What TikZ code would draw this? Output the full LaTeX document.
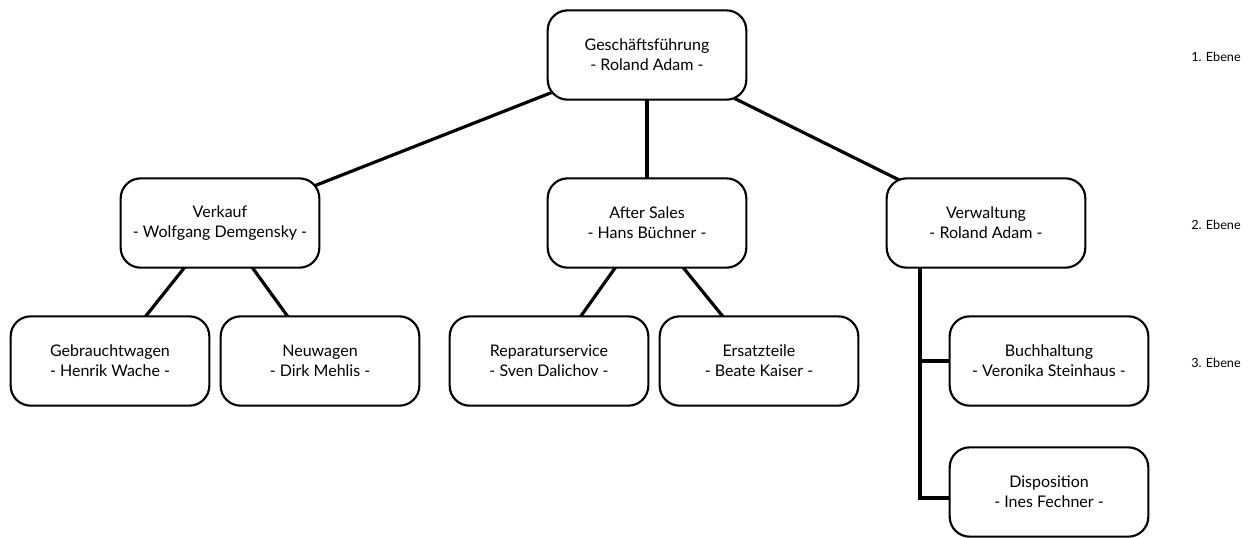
\documentclass[tikz,border=0pt]{standalone}
\usepackage{fontspec}
\setmainfont{Lato}
\usepackage{tikz}
\usetikzlibrary{positioning,backgrounds}
\tikzstyle{box} = [draw, line width=1.6pt, rounded corners=15pt, fill=white, minimum width=149pt, minimum height=67pt, align=center, font=\fontsize{12}{15}\selectfont]
\tikzstyle{line} = [line width=2.4pt]
\tikzstyle{ebene} = [anchor=base east, inner sep=0pt, font=\fontsize{9.5}{11}\selectfont]

\begin{document}
\begin{tikzpicture}[x=0.75pt,y=-0.75pt]
\useasboundingbox (0,0) rectangle (1253,537);

% 1. Ebene
\node[box] (gf) at (647,55) {Geschäftsführung\\- Roland Adam -};

% 2. Ebene
\node[box] (verkauf) at (220,223) {Verkauf\\- Wolfgang Demgensky -};
\node[box] (aftersales) at (647,223) {After Sales\\- Hans Büchner -};
\node[box] (verwaltung) at (986,223) {Verwaltung\\- Roland Adam -};

% 3. Ebene
\node[box] (gebraucht) at (110,361) {Gebrauchtwagen\\- Henrik Wache -};
\node[box] (neu) at (320,361) {Neuwagen\\- Dirk Mehlis -};
\node[box] (rep) at (549,361) {Reparaturservice\\- Sven Dalichov -};
\node[box] (ersatz) at (759,361) {Ersatzteile\\- Beate Kaiser -};
\node[box] (buch) at (1049,361) {Buchhaltung\\- Veronika Steinhaus -};
\node[box] (dispo) at (1049,492) {Disposition\\- Ines Fechner -};

% Verbindungen
\coordinate (knick) at (920,498);
\begin{scope}[on background layer]
\draw[line] (gf.center) -- (verkauf.center);
\draw[line] (gf.center) -- (aftersales.center);
\draw[line] (gf.center) -- (verwaltung.center);
\draw[line] (verkauf.center) -- (gebraucht.center);
\draw[line] (verkauf.center) -- (neu.center);
\draw[line] (aftersales.center) -- (rep.center);
\draw[line] (aftersales.center) -- (ersatz.center);
\draw[line] (verwaltung.center -| knick) -- (knick) -- (dispo.center |- knick);
\draw[line] (buch.center -| knick) -- (buch.center);
\end{scope}

% Ebenen
\node[ebene] (e1) at (1241,61) {1. Ebene};
\node[ebene] (e2) at (1241,229) {2. Ebene};
\node[ebene] (e3) at (1241,367) {3. Ebene};
\end{tikzpicture}
\end{document}
